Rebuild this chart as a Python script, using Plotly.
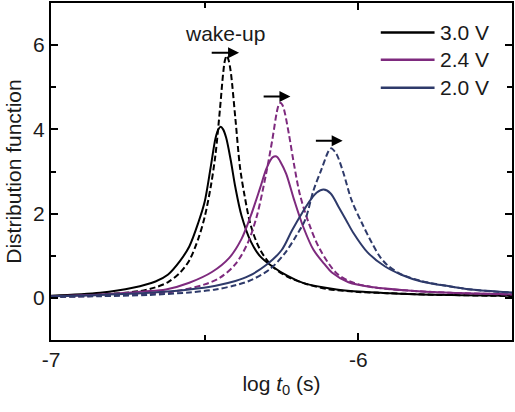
import plotly.graph_objects as go

# ---- data ----
bs_x = [-7.0, -6.84, -6.734, -6.66, -6.62, -6.58, -6.55, -6.52, -6.50, -6.48, -6.465, -6.456, -6.448,
        -6.44, -6.43, -6.415, -6.40, -6.38, -6.35, -6.32, -6.275, -6.23, -6.178, -6.071, -6.0, -5.9, -5.8, -5.65, -5.5]
bs_y = [0.05, 0.12, 0.24, 0.39, 0.55, 0.88, 1.22, 1.80, 2.28, 3.12, 3.78, 3.99, 4.06,
        4.00, 3.80, 3.26, 2.62, 1.95, 1.34, 0.99, 0.72, 0.52, 0.35, 0.20, 0.15, 0.11, 0.08, 0.065, 0.05]

bd_x = [-7.0, -6.84, -6.712, -6.66, -6.62, -6.58, -6.55, -6.52, -6.50, -6.48, -6.465, -6.45, -6.44, -6.434, -6.428,
        -6.422, -6.415, -6.40, -6.385, -6.37, -6.35, -6.32, -6.28, -6.23, -6.17, -6.10, -6.0, -5.9, -5.75, -5.5]
bd_y = [0.03, 0.08, 0.16, 0.25, 0.37, 0.60, 0.89, 1.42, 1.92, 2.65, 3.39, 4.50, 5.32, 5.64, 5.75,
        5.64, 5.36, 4.25, 3.10, 2.42, 1.72, 1.15, 0.75, 0.50, 0.33, 0.21, 0.14, 0.11, 0.075, 0.045]

ps_x = [-7.0, -6.84, -6.70, -6.626, -6.55, -6.475, -6.42, -6.38, -6.35, -6.32, -6.30, -6.285, -6.278, -6.27,
        -6.263, -6.255, -6.235, -6.21, -6.18, -6.146, -6.11, -6.086, -6.032, -5.95, -5.85, -5.70, -5.5]
ps_y = [0.04, 0.08, 0.15, 0.20, 0.36, 0.62, 0.95, 1.40, 1.95, 2.60, 3.05, 3.28, 3.34, 3.36,
        3.34, 3.25, 2.95, 2.35, 1.70, 1.14, 0.80, 0.60, 0.37, 0.25, 0.18, 0.12, 0.085]

pd_x = [-7.0, -6.84, -6.70, -6.60, -6.50, -6.45, -6.40, -6.36, -6.33, -6.30, -6.28, -6.265, -6.259, -6.253,
        -6.247, -6.24, -6.225, -6.21, -6.19, -6.16, -6.124, -6.07, -6.02, -5.95, -5.85, -5.70, -5.5]
pd_y = [0.02, 0.05, 0.09, 0.15, 0.32, 0.48, 0.80, 1.30, 1.95, 2.95, 3.75, 4.42, 4.58, 4.63,
        4.58, 4.42, 3.85, 3.20, 2.45, 1.75, 1.14, 0.58, 0.37, 0.25, 0.18, 0.12, 0.08]

ns_x = [-7.0, -6.84, -6.68, -6.55, -6.464, -6.40, -6.356, -6.30, -6.25, -6.216, -6.18, -6.156, -6.135, -6.113,
        -6.09, -6.065, -6.04, -6.016, -5.97, -5.914, -5.86, -5.795, -5.70, -5.633, -5.5]
ns_y = [0.04, 0.07, 0.12, 0.20, 0.29, 0.40, 0.52, 0.78, 1.13, 1.60, 2.05, 2.32, 2.50, 2.57,
        2.48, 2.17, 1.85, 1.54, 1.08, 0.75, 0.55, 0.39, 0.27, 0.20, 0.13]

nd_x = [-7.0, -6.84, -6.68, -6.55, -6.464, -6.40, -6.356, -6.29, -6.24, -6.20, -6.173, -6.146, -6.12, -6.10, -6.094,
        -6.088, -6.082, -6.07, -6.05, -6.022, -5.99, -5.957, -5.93, -5.903, -5.86, -5.795, -5.70, -5.633, -5.5]
nd_y = [0.02, 0.04, 0.07, 0.13, 0.20, 0.30, 0.40, 0.67, 1.05, 1.50, 1.85, 2.55, 3.05, 3.44, 3.52,
        3.55, 3.52, 3.40, 3.00, 2.32, 1.80, 1.32, 0.98, 0.76, 0.56, 0.40, 0.27, 0.20, 0.12]

labels = ["3.0 V", "2.4 V", "2.0 V"]
colors = ["#000000", "#7e2a7e", "#2e3a6a"]

# arrow annotations (wake-up shift), data units
arrow_x0 = [-6.482, -6.313, -6.143]
arrow_x1 = [-6.388, -6.221, -6.051]
arrow_y = [5.82, 4.78, 3.73]

FONT = "Liberation Sans, Arial, sans-serif"
TXT = "#1a1a1a"
FS = 21

fig = go.Figure()
series = [(bs_x, bs_y, bd_x, bd_y), (ps_x, ps_y, pd_x, pd_y), (ns_x, ns_y, nd_x, nd_y)]
for (sx, sy, dx, dy), c, lab in zip(series, colors, labels):
    fig.add_trace(go.Scatter(x=sx, y=sy, mode="lines", line=dict(color=c, width=2, shape="spline", smoothing=0.9),
                             name=lab, showlegend=False))
    fig.add_trace(go.Scatter(x=dx, y=dy, mode="lines",
                             line=dict(color=c, width=2, dash="6px,3px", shape="spline", smoothing=0.9),
                             name=lab + " wake-up", showlegend=False))

# arrows
for x0, x1, y in zip(arrow_x0, arrow_x1, arrow_y):
    fig.add_annotation(x=x1, y=y, ax=x0, ay=y, xref="x", yref="y", axref="x", ayref="y",
                       text="", showarrow=True, arrowhead=2, arrowsize=1.1, arrowwidth=2, arrowcolor="#000")

fig.add_annotation(x=-6.434, y=6.27, xref="x", yref="y", text="wake-up", showarrow=False,
                   font=dict(size=FS, color=TXT, family=FONT))

# legend drawn manually
leg_y = [6.30, 5.65, 4.99]
for c, lab, yy in zip(colors, labels, leg_y):
    fig.add_shape(type="line", x0=-5.927, x1=-5.752, y0=yy, y1=yy, xref="x", yref="y",
                  line=dict(color=c, width=2.5))
    fig.add_annotation(x=-5.740, y=yy, xref="x", yref="y", text=lab, showarrow=False, xanchor="left",
                       font=dict(size=FS, color=TXT, family=FONT))

axis_common = dict(showline=True, linecolor="black", linewidth=2, mirror="ticks", ticks="inside",
                   tickcolor="black", tickwidth=2, ticklen=7, showgrid=False, zeroline=False,
                   tickfont=dict(size=FS, color=TXT, family=FONT))

fig.update_xaxes(range=[-7, -5.5], tickvals=[-7, -6], ticktext=["-7", "-6"],
                 minor=dict(ticks="inside", ticklen=5, tickwidth=2, tickcolor="black", tickvals=[-6.5]),
                 title=dict(text="log <i>t</i><sub>0</sub> (s)", font=dict(size=FS, color=TXT, family=FONT), standoff=6),
                 **axis_common)
fig.update_yaxes(range=[-1, 7], tickvals=[0, 2, 4, 6],
                 minor=dict(ticks="inside", ticklen=5, tickwidth=2, tickcolor="black", tickvals=[-1, 1, 3, 5]),
                 title=dict(text="Distribution function", font=dict(size=FS, color=TXT, family=FONT), standoff=6),
                 **axis_common)

fig.update_layout(width=515, height=412, margin=dict(l=51, r=1, t=3, b=72),
                  plot_bgcolor="white", paper_bgcolor="white",
                  font=dict(family=FONT, size=FS, color=TXT))

fig.write_html("out.html")
